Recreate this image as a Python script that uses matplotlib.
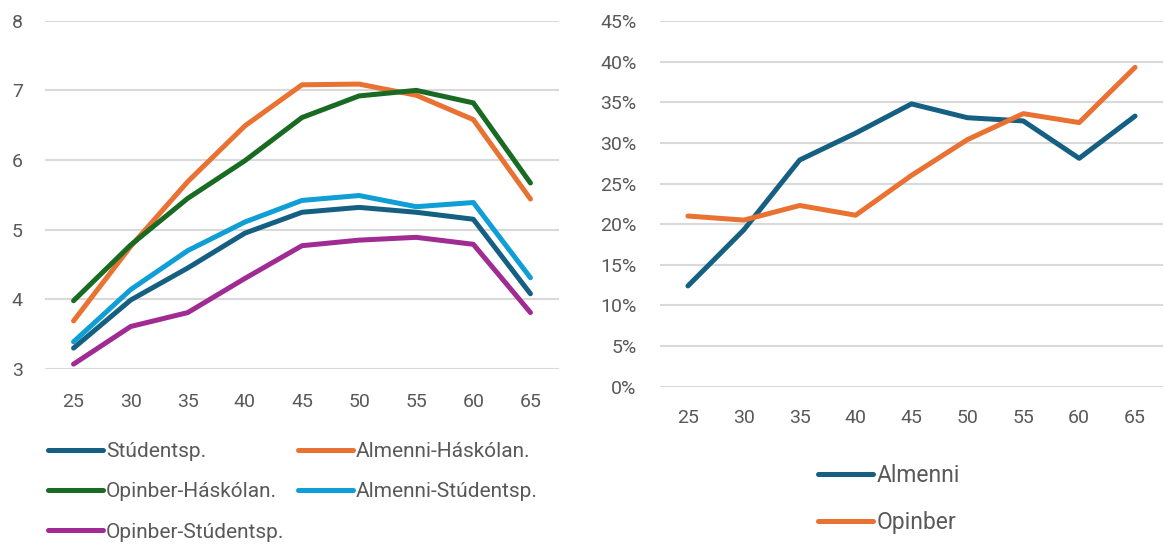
import matplotlib
matplotlib.use("Agg")
import matplotlib.pyplot as plt
from matplotlib.ticker import PercentFormatter

plt.rcParams['font.family'] = ['Roboto', 'DejaVu Sans']

# data
ages = [25, 30, 35, 40, 45, 50, 55, 60, 65]

studentsp = [3.30, 3.99, 4.45, 4.95, 5.25, 5.32, 5.25, 5.15, 4.08]
almenni_hask = [3.69, 4.76, 5.69, 6.49, 7.08, 7.09, 6.93, 6.58, 5.44]
opinber_hask = [3.98, 4.78, 5.45, 5.99, 6.61, 6.92, 7.00, 6.82, 5.67]
almenni_stud = [3.39, 4.14, 4.70, 5.11, 5.42, 5.49, 5.33, 5.39, 4.31]
opinber_stud = [3.07, 3.61, 3.81, 4.30, 4.77, 4.85, 4.89, 4.79, 3.81]

left_names = ["Stúdentsp.", "Almenni-Háskólan.", "Opinber-Háskólan.",
              "Almenni-Stúdentsp.", "Opinber-Stúdentsp."]

almenni = [12.4, 19.3, 27.9, 31.2, 34.8, 33.1, 32.7, 28.1, 33.3]
opinber = [21.0, 20.5, 22.3, 21.1, 26.0, 30.4, 33.6, 32.5, 39.3]
right_names = ["Almenni", "Opinber"]

c_dblue = "#156082"
c_orange = "#E97132"
c_green = "#196B24"
c_lblue = "#0F9ED5"
c_purple = "#A02B93"
txt = "#595959"
grid = "#D9D9D9"

fig = plt.figure(figsize=(11.67, 5.48), dpi=100)
ax1 = fig.add_axes([45 / 1167, 1 - 369 / 548, (559 - 45) / 1167, (369 - 20.7) / 548])
ax2 = fig.add_axes([660 / 1167, 1 - 386.7 / 548, (1163 - 660) / 1167, (386.7 - 21) / 548])


def style(ax, ypad, xpad):
    for s in ax.spines.values():
        s.set_visible(False)
    ax.grid(axis="y", color=grid, linewidth=1.5)
    ax.set_axisbelow(True)
    ax.tick_params(length=0, labelsize=14, colors=txt)
    ax.tick_params(axis="y", pad=ypad)
    ax.tick_params(axis="x", pad=xpad)
    ax.set_xticks(ages)
    ax.set_xlim(ages[0] - 2.5, ages[-1] + 2.5)


lw = 3.6
left_series = [studentsp, almenni_hask, opinber_hask, almenni_stud, opinber_stud]
left_colors = [c_dblue, c_orange, c_green, c_lblue, c_purple]
for vals, col, name in zip(left_series, left_colors, left_names):
    ax1.plot(ages, vals, color=col, lw=lw, solid_capstyle="round",
             solid_joinstyle="round", label=name)
ax1.set_ylim(3, 8)
ax1.set_yticks(range(3, 9))
style(ax1, 16, 17)

ax2.plot(ages, almenni, color=c_dblue, lw=lw, solid_capstyle="round",
         solid_joinstyle="round", label=right_names[0])
ax2.plot(ages, opinber, color=c_orange, lw=lw, solid_capstyle="round",
         solid_joinstyle="round", label=right_names[1])
ax2.set_ylim(0, 45)
ax2.set_yticks(range(0, 50, 5))
ax2.yaxis.set_major_formatter(PercentFormatter(decimals=0))
style(ax2, 17, 16)

# legend fills row by row in the reference, matplotlib fills by column
h, l = ax1.get_legend_handles_labels()
order = [0, 2, 4, 1, 3]
fig.legend([h[i] for i in order], [l[i] for i in order], loc="upper left",
           bbox_to_anchor=(48 / 1167, 1 - 442 / 548),
           ncol=2, frameon=False, fontsize=15, labelcolor=txt,
           handlelength=2.65, handletextpad=0.12, columnspacing=0.67,
           labelspacing=1.02, borderpad=0, borderaxespad=0)

h, l = ax2.get_legend_handles_labels()
fig.legend(h, l, loc="upper left", bbox_to_anchor=(818 / 1167, 1 - 464 / 548),
           ncol=1, frameon=False, fontsize=16.5, labelcolor=txt,
           handlelength=2.4, handletextpad=0.15,
           labelspacing=1.04, borderpad=0, borderaxespad=0)

fig.savefig("out.png", dpi=100, facecolor="white")
